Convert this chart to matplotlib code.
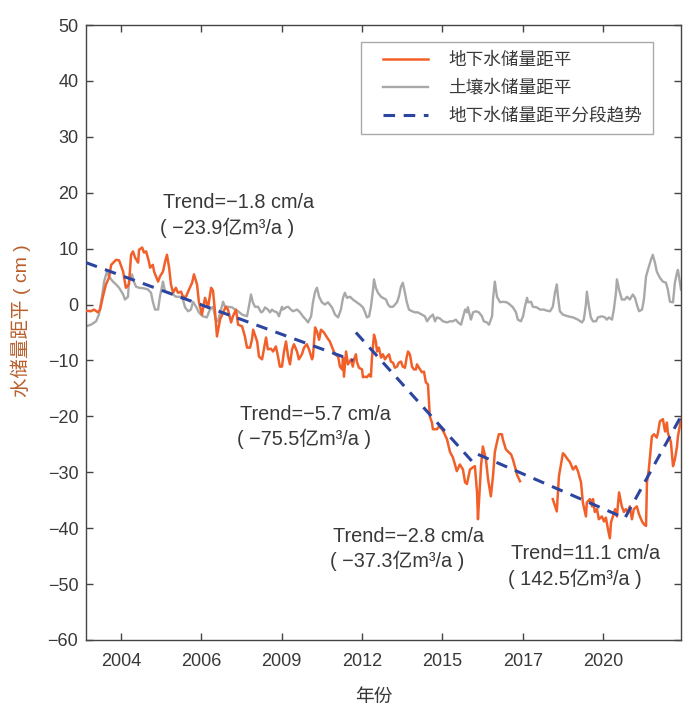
import numpy as np
import matplotlib
matplotlib.use("Agg")
import matplotlib.pyplot as plt
from matplotlib.patches import Rectangle

plt.rcParams['font.family'] = ['Liberation Sans', 'Noto Sans CJK SC', 'DejaVu Sans']
plt.rcParams['axes.unicode_minus'] = True

# ---------------- data ----------------
gw_year = [2003.00, 2003.16, 2003.26, 2003.39, 2003.46, 2003.55, 2003.65, 2003.75, 2003.82, 2003.98,
           2004.08, 2004.21, 2004.30, 2004.40, 2004.47, 2004.53, 2004.60, 2004.70, 2004.73, 2004.83,
           2004.89, 2004.96, 2005.05, 2005.09, 2005.18, 2005.22, 2005.35, 2005.41, 2005.51, 2005.58,
           2005.64, 2005.71, 2005.77, 2005.84, 2005.93, 2006.00, 2006.10, 2006.16, 2006.26, 2006.36,
           2006.46, 2006.52, 2006.62, 2006.68, 2006.78, 2006.88, 2006.98, 2007.08, 2007.14, 2007.21,
           2007.27, 2007.37, 2007.47, 2007.56, 2007.63, 2007.73, 2007.79, 2007.89, 2007.96, 2008.09,
           2008.18, 2008.25, 2008.35, 2008.41, 2008.45, 2008.58, 2008.64, 2008.74, 2008.80, 2008.87,
           2008.93, 2009.03, 2009.10, 2009.19, 2009.26, 2009.32, 2009.39, 2009.45, 2009.52, 2009.59,
           2009.65, 2009.72, 2009.78, 2009.88, 2009.94, 2010.04, 2010.11, 2010.20, 2010.27, 2010.37,
           2010.40, 2010.47, 2010.53, 2010.60, 2010.66, 2010.76, 2010.86, 2010.95, 2011.05, 2011.12,
           2011.22, 2011.28, 2011.35, 2011.38, 2011.41, 2011.48, 2011.54, 2011.64, 2011.70, 2011.74,
           2011.80, 2011.83, 2011.90, 2012.00, 2012.03, 2012.10, 2012.16, 2012.23, 2012.29, 2012.32,
           2012.39, 2012.45, 2012.49, 2012.55, 2012.62, 2012.68, 2012.75, 2012.81, 2012.88, 2012.94,
           2013.01, 2013.07, 2013.14, 2013.20, 2013.27, 2013.33, 2013.40, 2013.46, 2013.50, 2013.56,
           2013.63, 2013.69, 2013.76, 2013.79, 2013.86, 2013.95, 2014.02, 2014.08, 2014.15, 2014.21,
           2014.28, 2014.31, 2014.44, 2014.51, 2014.61, 2014.67, 2014.77, 2014.87, 2014.96, 2015.03,
           2015.09, 2015.19, 2015.29, 2015.36, 2015.42, 2015.52, 2015.62, 2015.68, 2015.75, 2015.78,
           2015.88, 2015.94, 2016.04, 2016.11, 2016.20, 2016.27, 2016.33, 2016.40, 2016.46, 2016.56,
           2016.59, 2016.69, 2016.76, 2016.86, 2016.92, 2016.99, 2017.05, 2017.15, 2017.70,
           2018.22, 2018.35, 2018.42, 2018.55, 2018.62, 2018.68, 2018.78, 2018.88, 2018.97, 2019.04,
           2019.14, 2019.20, 2019.30, 2019.33, 2019.43, 2019.50, 2019.53, 2019.59, 2019.66, 2019.72,
           2019.82, 2019.89, 2019.95, 2020.02, 2020.08, 2020.12, 2020.18, 2020.25, 2020.31, 2020.38,
           2020.47, 2020.54, 2020.60, 2020.67, 2020.73, 2020.80, 2020.86, 2020.96, 2021.03, 2021.13,
           2021.19, 2021.26, 2021.29, 2021.35, 2021.45, 2021.52, 2021.61, 2021.65, 2021.71, 2021.81,
           2021.88, 2021.94, 2021.97, 2022.07, 2022.14, 2022.20, 2022.27, 2022.30, 2022.40]
gw_val = [-1.1, -1.2, -0.9, -1.4, -0.9, 1.4, 3.6, 4.8, 7.1, 8.0,
          7.9, 5.9, 3.0, 3.6, 8.9, 9.5, 8.4, 7.5, 9.8, 10.2,
          9.3, 9.5, 7.7, 6.6, 7.1, 5.9, 4.1, 5.0, 5.9, 7.7,
          8.9, 6.6, 3.6, 2.1, 3.0, 2.1, 2.3, 1.4, 1.4, 2.7,
          3.9, 5.4, 3.6, 0.5, -1.8, 1.2, -0.5, 3.0, 2.5, -1.5,
          -5.7, -2.7, -1.4, -0.4, -0.9, -3.2, -2.1, -0.9, -3.6, -3.9,
          -5.7, -7.7, -7.7, -6.3, -4.5, -6.6, -9.3, -9.8, -8.0, -5.9,
          -8.0, -7.9, -8.4, -7.5, -9.3, -11.1, -11.1, -8.6, -6.6, -9.3,
          -10.7, -8.0, -7.1, -8.4, -9.8, -8.9, -7.7, -7.1, -8.0, -9.8,
          -9.3, -4.1, -4.8, -6.3, -4.5, -5.0, -5.9, -6.6, -8.0, -8.9,
          -9.3, -11.1, -11.6, -9.5, -12.9, -8.4, -10.7, -9.8, -11.1, -9.8,
          -8.9, -10.2, -11.3, -11.6, -13.0, -12.9, -13.0, -12.5, -12.9, -9.8,
          -5.4, -6.6, -8.4, -7.7, -9.5, -8.9, -9.8, -9.3, -8.9, -10.2,
          -10.4, -11.3, -11.1, -10.4, -10.2, -11.1, -11.3, -9.3, -8.4, -8.9,
          -11.1, -11.6, -11.6, -10.7, -11.3, -12.1, -12.0, -13.9, -14.3, -20.0,
          -21.1, -22.3, -22.3, -21.8, -22.3, -22.9, -24.1, -26.4, -27.3, -28.6,
          -29.8, -28.6, -29.5, -31.8, -32.1, -29.5, -29.1, -28.9, -33.6, -38.4,
          -28.9, -25.4, -27.7, -31.3, -34.3, -30.7, -26.4, -24.6, -23.2, -23.2,
          -24.1, -25.9, -26.3, -26.8, -27.7, -29.1, -30.4, -31.6, np.nan,
          -34.8, -37.0, -30.7, -26.6, -27.0, -27.5, -28.2, -29.5, -28.9, -29.8,
          -31.8, -35.4, -37.9, -35.4, -34.8, -36.1, -34.8, -37.1, -36.6, -38.4,
          -37.9, -38.8, -38.1, -40.2, -41.8, -38.9, -37.9, -36.6, -37.9, -33.6,
          -36.1, -37.1, -36.6, -37.1, -36.1, -38.4, -36.6, -36.1, -37.5, -38.8,
          -39.3, -39.6, -31.8, -29.5, -23.6, -23.2, -23.8, -22.9, -20.9, -20.5,
          -22.7, -21.1, -22.9, -24.6, -28.9, -27.7, -25.4, -23.6, -20.5]

soil_year = [2003.00, 2003.16, 2003.33, 2003.42, 2003.52, 2003.59, 2003.68, 2003.75, 2003.88, 2003.98,
             2004.08, 2004.21, 2004.27, 2004.37, 2004.40, 2004.50, 2004.56, 2004.63, 2004.73, 2004.89,
             2005.02, 2005.12, 2005.18, 2005.25, 2005.35, 2005.41, 2005.51, 2005.58, 2005.71, 2005.84,
             2005.93, 2006.06, 2006.16, 2006.23, 2006.33, 2006.42, 2006.49, 2006.59, 2006.68, 2006.75,
             2006.81, 2006.94, 2007.04, 2007.14, 2007.24, 2007.30, 2007.40, 2007.47, 2007.53, 2007.63,
             2007.76, 2007.86, 2007.96, 2008.09, 2008.25, 2008.31, 2008.38, 2008.44, 2008.51, 2008.61,
             2008.71, 2008.77, 2008.84, 2008.93, 2009.00, 2009.06, 2009.13, 2009.23, 2009.29, 2009.39,
             2009.42, 2009.52, 2009.59, 2009.68, 2009.75, 2009.88, 2009.98, 2010.07, 2010.17, 2010.24,
             2010.34, 2010.40, 2010.47, 2010.53, 2010.60, 2010.69, 2010.79, 2010.89, 2011.02, 2011.12,
             2011.22, 2011.31, 2011.38, 2011.44, 2011.51, 2011.61, 2011.70, 2011.83, 2011.93, 2012.03,
             2012.10, 2012.16, 2012.23, 2012.29, 2012.36, 2012.39, 2012.45, 2012.52, 2012.62, 2012.68,
             2012.78, 2012.85, 2012.91, 2013.01, 2013.14, 2013.20, 2013.27, 2013.33, 2013.40, 2013.46,
             2013.53, 2013.63, 2013.73, 2013.82, 2013.95, 2014.05, 2014.12, 2014.21, 2014.31, 2014.38,
             2014.44, 2014.54, 2014.64, 2014.77, 2014.87, 2014.96, 2015.06, 2015.13, 2015.23, 2015.29,
             2015.36, 2015.42, 2015.45, 2015.55, 2015.62, 2015.71, 2015.81, 2015.91, 2015.97, 2016.07,
             2016.14, 2016.24, 2016.27, 2016.33, 2016.40, 2016.50, 2016.59, 2016.72, 2016.82, 2016.92,
             2017.02, 2017.08, 2017.18, 2017.25, 2017.31, 2017.38, 2017.41, 2017.51, 2017.57, 2017.70,
             2017.80, 2017.93, 2018.03, 2018.13, 2018.22, 2018.29, 2018.35, 2018.39, 2018.45, 2018.55,
             2018.71, 2018.88, 2019.04, 2019.17, 2019.23, 2019.30, 2019.33, 2019.40, 2019.46, 2019.53,
             2019.63, 2019.69, 2019.82, 2019.92, 2019.98, 2020.05, 2020.15, 2020.21, 2020.28, 2020.31,
             2020.38, 2020.47, 2020.57, 2020.64, 2020.73, 2020.83, 2020.90, 2020.96, 2021.03, 2021.13,
             2021.19, 2021.26, 2021.32, 2021.42, 2021.48, 2021.55, 2021.61, 2021.71, 2021.81, 2021.91,
             2021.97, 2022.04, 2022.14, 2022.20, 2022.27, 2022.30, 2022.40]
soil_val = [-3.9, -3.6, -3.0, -1.8, 1.4, 4.1, 5.9, 5.0, 4.1, 3.6,
            3.0, 1.8, 0.9, 1.4, 4.1, 5.4, 4.1, 3.2, 3.0, 2.9,
            2.7, 2.1, 0.5, -0.9, -0.9, 1.4, 4.1, 2.3, 2.1, 1.8,
            1.4, 1.4, 0.9, -0.5, -1.2, -0.9, 0.5, -0.4, -1.4, -1.8,
            -2.1, -2.3, -0.9, -0.4, -3.0, -3.0, -0.9, 0.5, -0.4, -0.4,
            -0.5, -0.9, -1.2, -1.8, -2.1, -0.4, 1.8, 0.4, -0.4, -0.4,
            -1.4, -1.2, -0.5, -0.9, -1.4, -0.9, -1.2, -1.4, -2.1, -0.4,
            -0.9, -0.5, -0.4, -0.9, -1.2, -0.9, -1.4, -2.1, -2.7, -3.2,
            -2.1, 0.4, 2.3, 3.0, 1.4, 0.4, 0.0, 0.4, -0.5, -1.8,
            -2.3, -0.9, 1.2, 2.1, 1.2, 1.4, 0.9, 0.4, 0.0, -0.5,
            -1.4, -2.3, -2.1, -0.4, 2.7, 4.5, 3.0, 2.1, 1.4, 1.2,
            0.9, 0.0, -0.4, -0.4, 0.4, 1.4, 3.2, 3.9, 2.1, 0.4,
            -0.9, -1.2, -1.4, -1.4, -1.8, -2.1, -3.0, -2.3, -1.8, -3.0,
            -2.3, -2.5, -3.0, -3.2, -3.0, -3.0, -2.7, -3.2, -3.6, -2.3,
            -0.9, -1.4, -0.5, -2.7, -1.4, -1.2, -1.4, -2.1, -3.0, -3.2,
            -3.6, -2.1, 0.9, 4.1, 1.4, 0.4, 0.5, 0.4, 0.0, -0.5,
            -1.4, -2.7, -3.0, -2.1, -0.4, 1.2, 0.4, 0.5, -0.4, -0.5,
            -0.9, -0.9, -1.1, -1.2, -0.4, 2.1, 3.6, 1.4, -1.2, -1.8,
            -2.1, -2.3, -2.7, -3.2, -2.7, 0.0, 2.3, -0.4, -2.3, -3.0,
            -3.0, -2.3, -2.1, -2.3, -2.7, -2.3, -2.7, -0.9, 2.1, 4.5,
            2.7, 0.9, 0.9, 1.4, 0.9, 1.8, 1.2, 0.0, -1.2, -0.9,
            0.9, 5.0, 6.2, 8.0, 8.9, 7.5, 5.9, 4.8, 4.1, 3.9,
            2.7, 0.5, 0.4, 3.9, 5.7, 6.2, 2.7]

# piecewise trend segments (start/end year and value; NaN separates segments)
trend_year = [2003.00, 2011.71, np.nan, 2011.80, 2015.68, np.nan, 2015.78, 2020.57, 2022.40]
trend_val = [7.5, -10.0, np.nan, -5.0, -28.6, np.nan, -26.8, -38.2, -20.0]

tick_labels = ['2004', '2006', '2009', '2012', '2015', '2017', '2020']

trend_rates = ['Trend=\u22121.8 cm/a', 'Trend=\u22125.7 cm/a', 'Trend=\u22122.8 cm/a', 'Trend=11.1 cm/a']
volume_rates = ['( \u221223.9亿m\u00b3/a )', '( \u221275.5亿m\u00b3/a )', '( \u221237.3亿m\u00b3/a )', '( 142.5亿m\u00b3/a )']
label_year = [2005.41, 2007.92, 2010.95, 2016.76]
label_val = [18.2, -19.6, -41.4, -44.6]

# ---------------- figure ----------------
W, H = 694, 712
fig = plt.figure(figsize=(W / 100, H / 100), dpi=100)
ax = fig.add_axes([86 / W, 72 / H, 595 / W, 615 / H])

c_gw = '#f2602a'
c_soil = '#a8a8a8'
c_tr = '#2b45a0'
c_txt = '#383838'

ax.plot(gw_year, gw_val, color=c_gw, lw=1.8, label='地下水储量距平', zorder=3)
ax.plot(soil_year, soil_val, color=c_soil, lw=1.7, label='土壤水储量距平', zorder=2)
ax.plot(trend_year, trend_val, color=c_tr, lw=2.2, ls=(0, (3.8, 2.8)),
        label='地下水储量距平分段趋势', zorder=4)

ax.set_xlim(2003.0, 2022.4)
ax.set_ylim(-60, 50)
ticks = [2004.14 + 2.62 * i for i in range(len(tick_labels))]
ax.set_xticks(ticks)
ax.set_xticklabels(tick_labels)
ax.set_yticks(np.arange(-60, 51, 10))

for s in ax.spines.values():
    s.set_color('#444444')
    s.set_linewidth(1.0)
ax.tick_params(direction='in', top=True, right=True, length=5, width=1.0,
               colors='#444444', labelcolor=c_txt, labelsize=13)
ax.tick_params(axis='x', pad=9)
ax.tick_params(axis='y', pad=5.5)

ax.set_xlabel('年份', fontsize=13.5, color=c_txt)
ax.xaxis.set_label_coords(0.483, -0.079)
ax.set_ylabel('水储量距平 ( cm )', fontsize=14, color='#b8602e')
ax.yaxis.set_label_coords(-0.093, 0.52)

for tx, vx, t1, t2 in zip(label_year, label_val, trend_rates, volume_rates):
    ax.text(tx + 0.1, vx, t1, fontsize=14.3, color=c_txt, va='center', ha='left')
    ax.text(tx, vx - 4.4, t2, fontsize=14.3, color=c_txt, va='center', ha='left')

leg = ax.legend(loc='upper right', bbox_to_anchor=(0.951, 0.972), fontsize=12.7,
                frameon=False, handlelength=2.55, handletextpad=1.14,
                borderpad=0.55, labelspacing=0.62, borderaxespad=0)
for t in leg.get_texts():
    t.set_color(c_txt)
leg.set_zorder(7)

# legend frame, widened on the left as in the reference
fig.canvas.draw()
bb = leg.get_window_extent()
inv = ax.transAxes.inverted()
x0, y0 = inv.transform((bb.x0 - 12, bb.y0))
x1, y1 = inv.transform((bb.x1 + 1, bb.y1))
ax.add_patch(Rectangle((x0, y0), x1 - x0, y1 - y0, transform=ax.transAxes,
                       facecolor='white', edgecolor='#aaaaaa', lw=1.0, zorder=6))

fig.savefig('out.png', dpi=100)
